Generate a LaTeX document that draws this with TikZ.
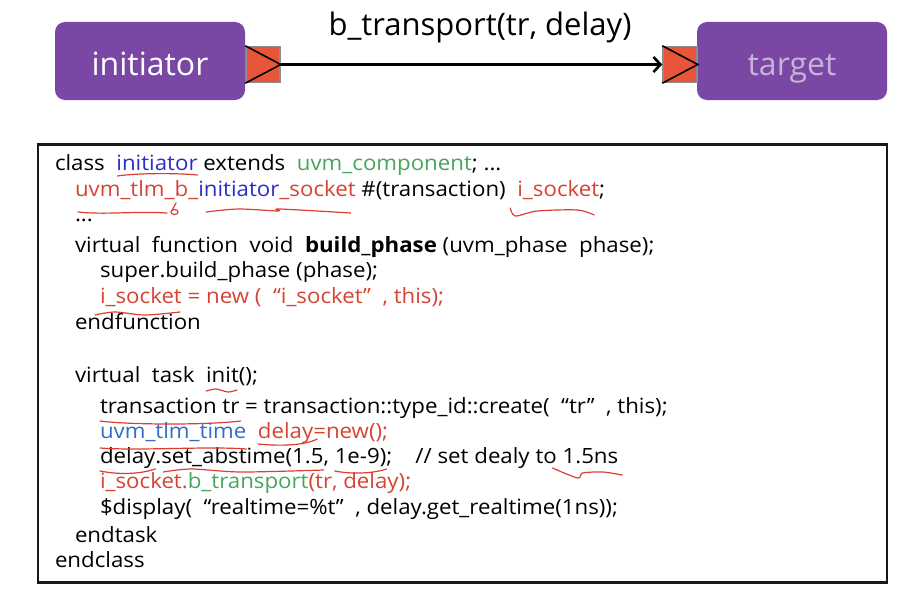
\documentclass[tikz,border=0pt]{standalone}
\usepackage{fontspec}
\setmainfont{Open Sans}
\newfontfamily\codefamily[FakeStretch=1.06]{Open Sans}
\usetikzlibrary{arrows.meta,calc}
\definecolor{boxpurple}{RGB}{122,72,164}
\definecolor{portred}{RGB}{232,85,58}
\definecolor{portgray}{RGB}{140,140,140}
\definecolor{tgtxt}{RGB}{196,180,214}
\definecolor{cred}{RGB}{214,68,52}
\definecolor{cblue}{RGB}{46,46,196}
\definecolor{cblue2}{RGB}{48,110,200}
\definecolor{cgreen}{RGB}{72,166,92}
\definecolor{hred}{RGB}{222,62,50}
\newcommand{\codefnt}{\codefamily\fontsize{21}{25}\selectfont}
\tikzset{
  pbox/.style={fill=boxpurple, rounded corners=10pt, minimum width=190pt, minimum height=78pt, inner sep=0pt, text height=29pt, text depth=1pt, font=\fontsize{32}{38}\selectfont},
  portbox/.style={fill=portred, draw=portgray, line width=1.5pt, minimum width=34pt, minimum height=36pt, inner sep=0pt},
  chev/.style={draw=black, line width=1.6pt},
  conn/.style={draw=black, line width=2.6pt, -{Straight Barb[length=7pt,width=15pt,line width=2.6pt]}},
  codebox/.style={draw=black!90, line width=2.6pt, minimum width=849pt, minimum height=438pt, inner sep=0pt},
  code/.style={anchor=base west, inner sep=0pt, outer sep=0pt, font=\codefnt},
  hand/.style={draw=hred, line width=1.2pt, line cap=round, line join=round},
}
\begin{document}
\begin{tikzpicture}[x=1pt,y=-1pt]
\useasboundingbox (0,0) rectangle (905,594);
\fill[white] (0,0) rectangle (905,594);
% top diagram
\node[pbox, text=white] (ini) at (150,61) {initiator};
\node[pbox, text=tgtxt] (tgt) at (792,61) {target};
\node[portbox] (ip) at (263,64.5) {};
\node[portbox] (tp) at (680,64.5) {};
\draw[chev] (ip.north west) -- (ip.east) -- (ip.south west);
\draw[chev] (tp.north west) -- (tp.east) -- (tp.south west);
\draw[conn] (ip.east) -- (tp.west);
\node[inner sep=0pt, font=\fontsize{31}{36}\selectfont] (lbl) at (480,27) {b\_transport(tr, delay)};
% code box
\node[codebox] (cb) at (462.5,363.5) {};
% line 1
\node[code] (a1) at (55,170) {class~~\null};
\node[code, text=cblue] (a2) at (a1.base east) {initiator};
\node[code] (a3) at (a2.base east) {~extends~~\null};
\node[code, text=cgreen] (a4) at (a3.base east) {uvm\_component};
\node[code] (a5) at (a4.base east) {; ...};
% line 2
\node[code, text=cred] (b1) at (75,196) {uvm\_tlm\_b\_};
\node[code, text=cblue] (b2) at (b1.base east) {initiator};
\node[code, text=cred] (b3) at (b2.base east) {\_socket};
\node[code] (b4) at (b3.base east) {~\#(transaction)~~\null};
\node[code, text=cred] (b5) at (b4.base east) {i\_socket};
\node[code] (b6) at (b5.base east) {;};
% line 3
\node[code] (c1) at (75,221) {...};
% line 4
\node[code] (d1) at (75,252) {virtual~~function~~void~~\null};
\node[code] (d2) at (d1.base east) {\bfseries build\_phase};
\node[code] (d3) at (d2.base east) {~(uvm\_phase~~phase);};
% line 5
\node[code] (e1) at (100,277) {super.build\_phase (phase);};
% line 6
\node[code, text=cred] (f1) at (100,303) {i\_socket = new (~~“i\_socket”~~, this);};
% line 7
\node[code] (g1) at (75,329) {endfunction};
% line 9
\node[code] (i1) at (75,382) {virtual~~task~~\null};
\node[code] (i2) at (i1.base east) {init};
\node[code] (i3) at (i2.base east) {();};
% line 10
\node[code] (j1) at (100,413) {transaction~tr};
\node[code] (j2) at (j1.base east) {~=~transaction::type\_id::create(~~“tr”~~, this);};
% line 11
\node[code, text=cblue2] (k1) at (100,438) {uvm\_tlm\_time};
\node[code] (k2) at (k1.base east) {~~\null};
\node[code, text=cred] (k3) at (k2.base east) {delay};
\node[code, text=cred] (k4) at (k3.base east) {=new();};
% line 12
\node[code] (m1) at (100,463) {delay};
\node[code] (m2) at (m1.base east) {.};
\node[code] (m3) at (m2.base east) {set\_abstime(1.5};
\node[code] (m4) at (m3.base east) {,~\null};
\node[code] (m5) at (m4.base east) {1e-9)};
\node[code] (m6) at (m5.base east) {;~~~~//~set~dealy~to~\null};
\node[code] (m7) at (m6.base east) {1.5ns};
% line 13
\node[code, text=cred] (n1) at (100,488) {i\_socket.};
\node[code, text=cgreen] (n2) at (n1.base east) {b\_transport};
\node[code, text=cred] (n3) at (n2.base east) {(tr, delay);};
% line 14
\node[code] (o1) at (100,514) {\$display(~~“realtime=\%t”~~, delay.get\_realtime(1ns));};
% line 15, 16
\node[code] (p1) at (75,542) {endtask};
\node[code] (q1) at (55,567) {endclass};
% handwritten marks
\draw[hand] ($(a2.base west)+(1,6)$) .. controls ($(a2.base west)+(20,3)$) and ($(a2.base east)+(-20,3)$) .. ($(a2.base east)+(0,5)$);
\draw[hand] ($(b1.base west)+(3,16)$) .. controls ($(b1.base west)+(30,19)$) and ($(b1.base west)+(60,15)$) .. ($(b1.base west)+(92,17)$);
\draw[hand] ($(b1.base west)+(101,7)$) -- ($(b1.base west)+(96,16)$) arc[start angle=180, end angle=-180, x radius=3.5, y radius=2.5];
\draw[hand] plot[smooth] coordinates {($(b2.base west)+(8,16)$) ($(b2.base west)+(40,13)$) ($(b2.base west)+(80,15)$) ($(b3.base west)+(0,13)$) ($(b3.base east)+(-5,17)$)};
\draw[hand] plot[smooth] coordinates {($(b5.base west)+(-7,12)$) ($(b5.base west)+(-2,20)$) ($(b5.base west)+(20,15)$) ($(b5.base west)+(60,14)$) ($(b5.base east)+(-5,19)$)};
\draw[hand] plot[smooth] coordinates {($(f1.base west)+(-5,12)$) ($(f1.base west)+(15,9)$) ($(f1.base west)+(45,12)$) ($(f1.base west)+(80,9)$)};
\draw[hand] plot[smooth] coordinates {($(i2.base west)+(0,9)$) ($(i2.base west)+(10,7)$) ($(i2.base west)+(22,10)$) ($(i2.base east)+(-2,8)$)};
\draw[hand] ($(j1.base west)+(0,8)$) .. controls ($(j1.base west)+(30,12)$) and ($(j1.base east)+(-30,12)$) .. ($(j1.base east)+(1,8)$);
\draw[hand] ($(k1.base west)+(0,10)$) .. controls ($(k1.base west)+(40,13)$) and ($(k1.base east)+(-40,8)$) .. ($(k1.base east)+(0,11)$);
\draw[hand] ($(k3.base west)+(0,6)$) .. controls ($(k3.base west)+(20,8)$) and ($(k3.base east)+(-10,8)$) .. ($(k3.base east)+(4,1)$);
\draw[hand] ($(m1.base west)+(0,8)$) .. controls ($(m1.base west)+(20,12)$) and ($(m1.base east)+(-15,11)$) .. ($(m1.base east)+(0,6)$);
\draw[hand] plot[smooth] coordinates {($(m3.base west)+(2,9)$) ($(m3.base west)+(30,6)$) ($(m3.base west)+(80,9)$) ($(m3.base east)+(0,7)$)};
\draw[hand] ($(m5.base west)+(0,8)$) .. controls ($(m5.base west)+(15,11)$) and ($(m5.base east)+(-15,11)$) .. ($(m5.base east)+(0,6)$);
\draw[hand] plot[smooth] coordinates {($(m7.base west)+(-10,5)$) ($(m7.base west)+(15,15)$) ($(m7.base west)+(20,10)$) ($(m7.base west)+(40,9)$) ($(m7.base east)+(4,12)$)};
\end{tikzpicture}
\end{document}
